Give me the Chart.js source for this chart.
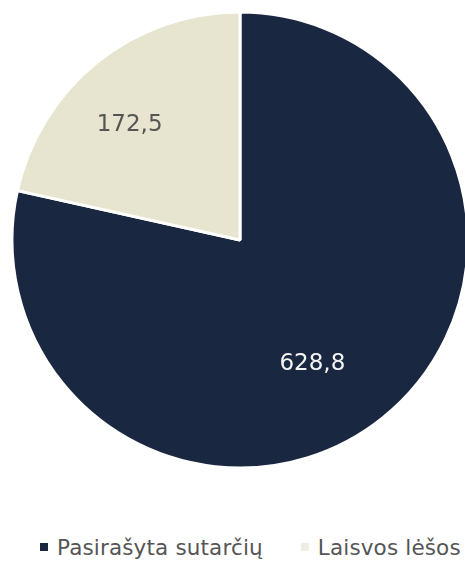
<!DOCTYPE html>
<html>
<head>
<meta charset="utf-8">
<script src="https://cdn.jsdelivr.net/npm/chart.js@4.4.0/dist/chart.umd.min.js"></script>
<style>
    html, body { margin: 0; padding: 0; background: #ffffff; }
    #wrap { width: 465px; height: 568px; position: relative; overflow: hidden; }
    #chartBox { position: absolute; left: 0; top: 0; width: 465px; height: 480px; }
    #legenda {
        position: absolute; left: 40px; top: 535px; white-space: nowrap;
        font-family: "DejaVu Sans", sans-serif; font-size: 21.5px; color: #555555;
        line-height: 25px; letter-spacing: 0.15px;
    }
    #legenda span.item { display: inline-block; margin-right: 38px; }
    #legenda span.box { display: inline-block; width: 8px; height: 8px; margin-right: 9px; vertical-align: 4px; }
</style>
</head>
<body>
<div id="wrap">
    <div id="chartBox"><canvas id="pieChart"></canvas></div>
    <div id="legenda"></div>
</div>
<script>
// Duomenys
const kategorijos = ['Pasirašyta sutarčių', 'Laisvos lėšos'];
const reiksmes = [628.8, 172.5];
const spalvos = ['#1a2740', '#e7e5d0'];
const legendosSpalvos = ['#1a2740', '#efeee2'];
const etikeciuSpalvos = ['#f4f4f4', '#555555'];

// Reikšmių etiketės ant sektorių
const valueLabels = {
    id: 'valueLabels',
    afterDatasetsDraw(chart, args, opts) {
        const ctx = chart.ctx;
        const meta = chart.getDatasetMeta(0);
        ctx.save();
        ctx.font = '23px "DejaVu Sans"';
        ctx.textAlign = 'center';
        ctx.textBaseline = 'middle';
        meta.data.forEach((arc, i) => {
            const p = arc.getProps(['x', 'y', 'startAngle', 'endAngle', 'outerRadius'], true);
            const mid = (p.startAngle + p.endAngle) / 2 + opts.angleShift[i] * Math.PI / 180;
            const r = p.outerRadius * opts.radiusFrac[i];
            ctx.fillStyle = etikeciuSpalvos[i];
            ctx.fillText(reiksmes[i].toFixed(1).replace('.', ','), p.x + Math.cos(mid) * r, p.y + Math.sin(mid) * r);
        });
        ctx.restore();
    }
};

const ctx = document.getElementById('pieChart').getContext('2d');
const grafikas = new Chart(ctx, {
    type: 'pie',
    data: {
        labels: kategorijos,
        datasets: [{
            data: reiksmes,
            backgroundColor: spalvos,
            borderColor: '#ffffff',
            borderWidth: 3,
            radius: 228
        }]
    },
    options: {
        responsive: true,
        maintainAspectRatio: false,
        animation: false,
        layout: { padding: { top: 13, left: 15, right: 0, bottom: 13 } },
        plugins: {
            tooltip: { enabled: false },
            legend: { display: false },
            valueLabels: { radiusFrac: [0.63, 0.70], angleShift: [8.5, -5] }
        }
    },
    plugins: [valueLabels]
});

// HTML legenda iš tų pačių masyvų
let html = '';
kategorijos.forEach((k, i) => {
    html += `<span class="item"><span class="box" style="background:${legendosSpalvos[i]}"></span>${k}</span>`;
});
document.getElementById('legenda').innerHTML = html;
</script>
</body>
</html>
